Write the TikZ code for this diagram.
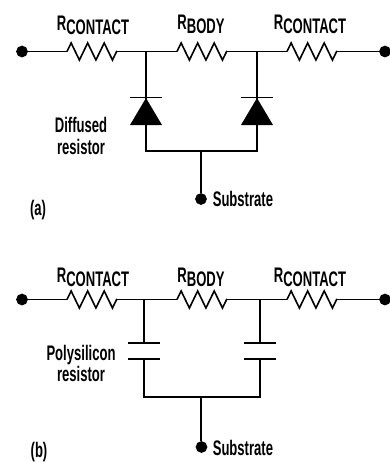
\documentclass[tikz,border=0pt]{standalone}
\usepackage{fontspec}
\setmainfont{Liberation Sans}[FakeStretch=0.62]
\usetikzlibrary{decorations.pathmorphing}
\tikzset{terminal/.style={circle, draw, fill=black, inner sep=0pt, minimum width=7.5pt}}
\tikzset{lbl/.style={font=\bfseries\fontsize{15.8}{16}\selectfont, inner sep=0pt, align=center}}
\tikzset{rzig/.style={decoration={zigzag, segment length=12.4pt, amplitude=6.4pt}, decorate}}
\tikzset{lead/.style={line width=1.5pt}}
\newcommand{\Rsub}[1]{R\raisebox{-3pt}{#1}}

\begin{document}
\begin{tikzpicture}[x=0.75pt,y=-0.75pt,line width=1.2pt]
    \useasboundingbox (0,0) rectangle (390,462);
    % (a) diffused
    \node[terminal] (ain) at (22,51.5) {};
    \node[terminal] (aout) at (385,51.5) {};
    \coordinate (aj1) at (146,51.5);
    \coordinate (aj2) at (257,51.5);
    \coordinate (ar1a) at (67,51.5);
    \coordinate (ar1b) at (117,51.5);
    \coordinate (ar2a) at (177,51.5);
    \coordinate (ar2b) at (227,51.5);
    \coordinate (ar3a) at (287,51.5);
    \coordinate (ar3b) at (337,51.5);
    \draw (ain) -- (ar1a);
    \draw[rzig] (ar1a) -- (ar1b);
    \draw (ar1b) -- (ar2a);
    \draw[rzig] (ar2a) -- (ar2b);
    \draw (ar2b) -- (ar3a);
    \draw[rzig] (ar3a) -- (ar3b);
    \draw (ar3b) -- (aout);
    \coordinate (ad1) at (146,98);
    \coordinate (ad2) at (257,98);
    \coordinate (ab1) at (146,151);
    \coordinate (ab2) at (257,151);
    \coordinate (abm) at (201,151);
    \draw[lead] (aj1) -- (ad1);
    \draw[lead] (aj2) -- (ad2);
    \draw (130,97.5) -- (162,97.5);
    \draw (241,97.5) -- (273,97.5);
    \fill (ad1) -- (162,125) -- (130,125) -- cycle;
    \fill (ad2) -- (273,125) -- (241,125) -- cycle;
    \draw (ad1) -- (ab1) -- (ab2) -- (ad2);
    \node[terminal] (asub) at (201,199) {};
    \draw (abm) -- (asub);
    \node[lbl] (ar1l) at (93,25.5) {\Rsub{CONTACT}};
    \node[lbl] (ar2l) at (201,24.5) {\Rsub{BODY}};
    \node[lbl] (ar3l) at (310,24.5) {\Rsub{CONTACT}};
    \node[lbl] (adiff) at (81,136) {Diffused\\resistor};
    \node[lbl,anchor=west] (asubl) at (212,199) {Substrate};
    \node[lbl] (atag) at (38,210) {(a)};

    % (b) polysilicon
    \node[terminal] (bin) at (22,299.5) {};
    \node[terminal] (bout) at (385,299.5) {};
    \coordinate (bj1) at (144,299.5);
    \coordinate (bj2) at (260,299.5);
    \coordinate (br1a) at (67,299.5);
    \coordinate (br1b) at (117,299.5);
    \coordinate (br2a) at (177,299.5);
    \coordinate (br2b) at (227,299.5);
    \coordinate (br3a) at (287,299.5);
    \coordinate (br3b) at (337,299.5);
    \draw (bin) -- (br1a);
    \draw[rzig] (br1a) -- (br1b);
    \draw (br1b) -- (br2a);
    \draw[rzig] (br2a) -- (br2b);
    \draw (br2b) -- (br3a);
    \draw[rzig] (br3a) -- (br3b);
    \draw (br3b) -- (bout);
    \coordinate (bc1t) at (144,343);
    \coordinate (bc2t) at (260,343);
    \coordinate (bc1b) at (144,359);
    \coordinate (bc2b) at (260,359);
    \coordinate (bb1) at (144,397);
    \coordinate (bb2) at (260,397);
    \coordinate (bbm) at (201.5,397);
    \draw[lead] (bj1) -- (bc1t);
    \draw[lead] (bj2) -- (bc2t);
    \draw (128,343) -- (160,343);
    \draw (128,359) -- (160,359);
    \draw (244,343) -- (276,343);
    \draw (244,359) -- (276,359);
    \draw (bc1b) -- (bb1) -- (bb2) -- (bc2b);
    \node[terminal] (bsub) at (201.5,447) {};
    \draw[lead] (bbm) -- (bsub);
    \node[lbl] (br1l) at (93,277) {\Rsub{CONTACT}};
    \node[lbl] (br2l) at (201,277) {\Rsub{BODY}};
    \node[lbl] (br3l) at (310,277) {\Rsub{CONTACT}};
    \node[lbl] (bpoly) at (81,363.5) {Polysilicon\\resistor};
    \node[lbl,anchor=west] (bsubl) at (212,448) {Substrate};
    \node[lbl] (btag) at (39,452) {(b)};
\end{tikzpicture}
\end{document}
